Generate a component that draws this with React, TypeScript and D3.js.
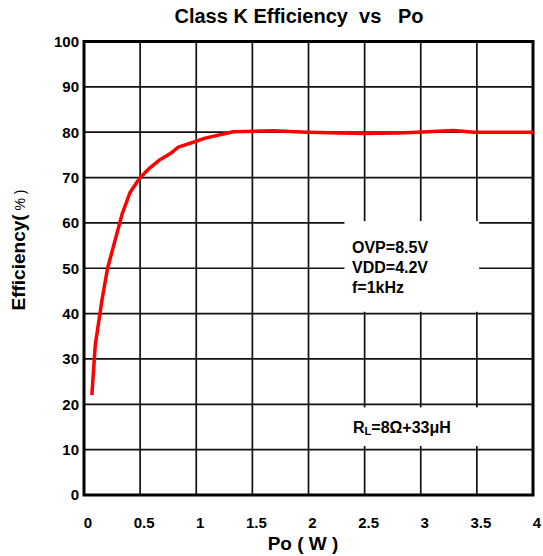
import { useRef, useEffect } from "react";
import * as d3 from "d3";

const poValues = [0.07, 0.1, 0.16, 0.21, 0.34, 0.41, 0.5, 0.59, 0.68, 0.77, 0.84, 1.0, 1.08, 1.33, 1.68, 1.99, 2.49, 2.8, 2.97, 3.29, 3.47, 4.0];
const effValues = [22, 33, 43, 50, 62, 66.7, 70, 72.2, 74, 75.3, 76.7, 78, 78.7, 80.1, 80.3, 80, 79.7, 79.8, 80, 80.4, 80, 80];
const xTicks = [0, 0.5, 1, 1.5, 2, 2.5, 3, 3.5, 4];
const yTicks = [0, 10, 20, 30, 40, 50, 60, 70, 80, 90, 100];
const noteLines = ["OVP=8.5V", "VDD=4.2V", "f=1kHz"];

const W = 543;
const H = 556;
const FONT = "Arial, 'Liberation Sans', sans-serif";

export default function App() {
  const svgRef = useRef<SVGSVGElement>(null);

  useEffect(() => {
    const svg = d3.select(svgRef.current);
    svg.selectAll("*").remove();

    const x = d3.scaleLinear().domain([0, 4]).range([84, 533]);
    const y = d3.scaleLinear().domain([0, 100]).range([495, 41.5]);

    svg.append("rect").attr("width", W).attr("height", H).attr("fill", "#fff");

    // grid
    const grid = svg.append("g");
    xTicks.forEach(t => {
      grid.append("line")
        .attr("x1", x(t)).attr("x2", x(t))
        .attr("y1", y(0)).attr("y2", y(100))
        .attr("stroke", "#111").attr("stroke-width", 1.7);
    });
    yTicks.forEach(t => {
      grid.append("line")
        .attr("x1", x(0)).attr("x2", x(4))
        .attr("y1", y(t)).attr("y2", y(t))
        .attr("stroke", "#111").attr("stroke-width", 1.7);
    });

    // white note boxes covering grid
    svg.append("rect")
      .attr("x", x(2.32)).attr("y", y(60.4))
      .attr("width", x(3.52) - x(2.32)).attr("height", y(40.4) - y(60.4))
      .attr("fill", "#fff");
    svg.append("rect")
      .attr("x", x(2.1)).attr("y", y(19.3))
      .attr("width", x(3.95) - x(2.1)).attr("height", y(10.8) - y(19.3))
      .attr("fill", "#fff");

    // frame
    svg.append("rect")
      .attr("x", x(0)).attr("y", y(100))
      .attr("width", x(4) - x(0)).attr("height", y(0) - y(100))
      .attr("fill", "none").attr("stroke", "#000").attr("stroke-width", 3);

    // curve
    const pts = poValues.map((p, i) => [p, effValues[i]] as [number, number]);
    const line = d3.line<[number, number]>()
      .x(d => x(d[0]))
      .y(d => y(d[1]))
      .curve(d3.curveLinear);
    svg.append("path")
      .datum(pts)
      .attr("d", line)
      .attr("fill", "none")
      .attr("stroke", "#ff0000")
      .attr("stroke-width", 3.5)
      .attr("stroke-linejoin", "round");

    // y tick labels
    yTicks.forEach(t => {
      svg.append("text")
        .attr("x", 79).attr("y", y(t))
        .attr("dy", "0.36em")
        .attr("text-anchor", "end")
        .attr("font-family", FONT).attr("font-weight", "bold").attr("font-size", 15)
        .attr("fill", "#000")
        .text(t);
    });

    // x tick labels
    xTicks.forEach(t => {
      svg.append("text")
        .attr("x", x(t) + 4).attr("y", 528)
        .attr("text-anchor", "middle")
        .attr("font-family", FONT).attr("font-weight", "bold").attr("font-size", 15)
        .attr("fill", "#000")
        .text(t);
    });

    // title
    svg.append("text")
      .attr("x", 299).attr("y", 23)
      .attr("text-anchor", "middle")
      .attr("font-family", FONT).attr("font-weight", "bold").attr("font-size", 20)
      .style("white-space", "pre")
      .text("Class K Efficiency  vs   Po");

    // x axis title
    svg.append("text")
      .attr("x", 303).attr("y", 550)
      .attr("text-anchor", "middle")
      .attr("font-family", FONT).attr("font-weight", "bold").attr("font-size", 19)
      .style("white-space", "pre")
      .text("Po ( W )");

    // y axis title
    const yt = svg.append("text")
      .attr("transform", "translate(25,250) rotate(-90)")
      .attr("text-anchor", "middle")
      .attr("font-family", FONT).attr("font-weight", "bold").attr("font-size", 19)
      .style("white-space", "pre");
    yt.append("tspan").text("Efficiency(");
    yt.append("tspan").attr("font-size", 14).attr("font-weight", "normal").text(" % )");

    // notes
    noteLines.forEach((s, i) => {
      svg.append("text")
        .attr("x", 352).attr("y", 253 + i * 20)
        .attr("font-family", FONT).attr("font-weight", "bold").attr("font-size", 16)
        .text(s);
    });
    const rl = svg.append("text")
      .attr("x", 353).attr("y", 433)
      .attr("font-family", FONT).attr("font-weight", "bold").attr("font-size", 16);
    rl.append("tspan").text("R");
    rl.append("tspan").attr("font-size", 11).attr("dy", 2).text("L");
    rl.append("tspan").attr("dy", -2).text("=8Ω+33μH");
  }, []);

  return (
    <div style={{ position: "absolute", left: 0, top: 0 }}>
      <svg ref={svgRef} width={W} height={H} style={{ display: "block" }} />
    </div>
  );
}
